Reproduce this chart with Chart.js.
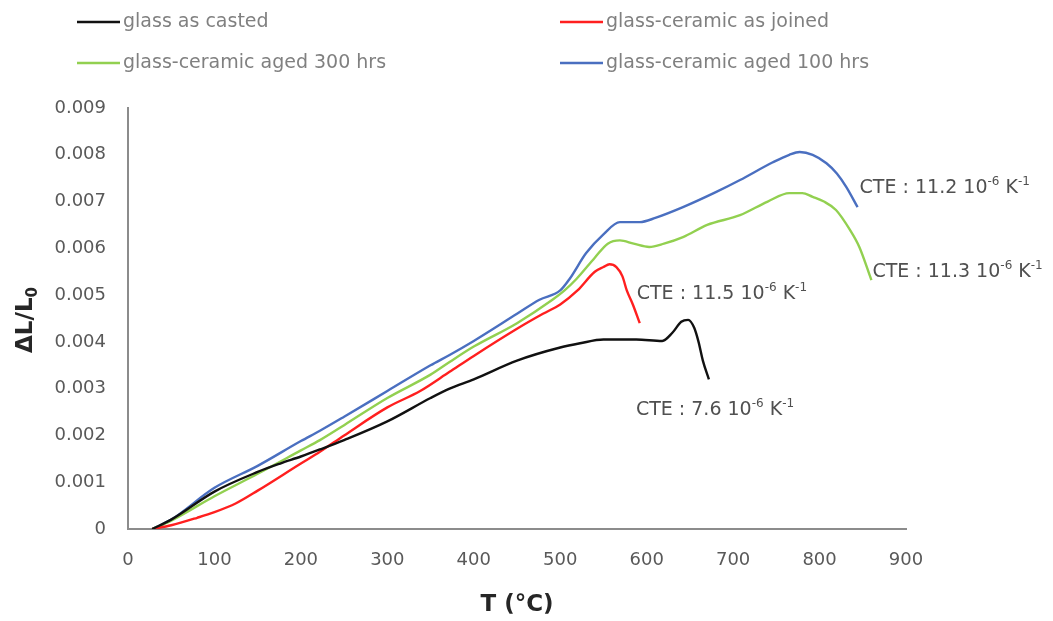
<!DOCTYPE html>
<html>
<head>
<meta charset="utf-8">
<script src="https://cdn.jsdelivr.net/npm/chart.js@4.4.1/dist/chart.umd.min.js"></script>
<style>
  html, body { margin: 0; padding: 0; background: #ffffff; }
  #wrap { width: 1053px; height: 621px; position: relative; }
</style>
</head>
<body>
<div id="wrap"><canvas id="c" width="1053" height="621"></canvas></div>
<script>
// ---------- data ----------
const seriesLabels = ['glass as casted', 'glass-ceramic as joined', 'glass-ceramic aged 300 hrs', 'glass-ceramic aged 100 hrs'];
const seriesColors = ['#111111', '#ff1f1f', '#92d050', '#4a6fc0'];

const castedT  = [28, 50, 100, 150, 176, 200, 222, 250, 300, 350, 372, 400, 450, 500, 523, 550, 588, 618, 630, 640, 648, 655, 660, 665, 672];
const castedDL = [0, 0.0002, 0.0008, 0.00122, 0.0014, 0.00155, 0.0017, 0.0019, 0.0023, 0.0028, 0.003, 0.0032, 0.0036, 0.00388, 0.00397, 0.00405, 0.00405, 0.00402, 0.0042, 0.00443, 0.00447, 0.0043, 0.004, 0.0036, 0.0032];

const joinedT  = [28, 50, 80, 100, 125, 150, 200, 222, 250, 300, 338, 372, 400, 450, 480, 500, 520, 540, 550, 557, 565, 572, 577, 584, 592];
const joinedDL = [0, 0.00008, 0.00024, 0.00036, 0.00055, 0.00082, 0.0014, 0.00165, 0.002, 0.0026, 0.00295, 0.00336, 0.0037, 0.00428, 0.0046, 0.0048, 0.0051, 0.0055, 0.0056, 0.00566, 0.0056, 0.0054, 0.0051, 0.0048, 0.0044];

const aged300T  = [28, 50, 100, 150, 200, 222, 250, 300, 350, 372, 400, 450, 491, 505, 519, 540, 555, 569, 585, 603, 620, 642, 670, 708, 740, 765, 780, 792, 805, 819, 835, 846, 860];
const aged300DL = [0, 0.00018, 0.0007, 0.00118, 0.00168, 0.0019, 0.00222, 0.0028, 0.0033, 0.00357, 0.0039, 0.0044, 0.0049, 0.0051, 0.00535, 0.0058, 0.0061, 0.00617, 0.0061, 0.00603, 0.0061, 0.00624, 0.0065, 0.00671, 0.007, 0.00718, 0.00718, 0.0071, 0.007, 0.00682, 0.0064, 0.00603, 0.00532];

const aged100T  = [28, 50, 100, 150, 200, 222, 250, 300, 350, 372, 400, 450, 476, 500, 511, 530, 550, 569, 592, 610, 642, 680, 708, 746, 765, 777, 792, 808, 820, 831, 844];
const aged100DL = [0, 0.0002, 0.00088, 0.00135, 0.00188, 0.0021, 0.0024, 0.00295, 0.0035, 0.00372, 0.00402, 0.0046, 0.0049, 0.0051, 0.00535, 0.0059, 0.0063, 0.00656, 0.00656, 0.00665, 0.00688, 0.0072, 0.00746, 0.00784, 0.008, 0.00806, 0.008, 0.00782, 0.0076, 0.00731, 0.00688];

const xTickLabels = ['0', '100', '200', '300', '400', '500', '600', '700', '800', '900'];
const yTickLabels = ['0', '0.001', '0.002', '0.003', '0.004', '0.005', '0.006', '0.007', '0.008', '0.009'];

const cteLabels = ['7.6', '11.5', '11.3', '11.2'];

// ---------- build ----------
function pairs(xs, ys) { return xs.map((x, i) => ({ x: x, y: ys[i] })); }
const seriesData = [pairs(castedT, castedDL), pairs(joinedT, joinedDL), pairs(aged300T, aged300DL), pairs(aged100T, aged100DL)];

const datasets = seriesData.map((d, i) => ({
  label: seriesLabels[i],
  data: d,
  borderColor: seriesColors[i],
  backgroundColor: seriesColors[i],
  borderWidth: 2.4,
  pointRadius: 0,
  showLine: true,
  cubicInterpolationMode: 'monotone',
  fill: false
}));

const FONT = '"DejaVu Sans", "Liberation Sans", sans-serif';

function drawSup(ctx, parts, x, y, size, color) {
  ctx.fillStyle = color;
  ctx.textBaseline = 'alphabetic';
  ctx.textAlign = 'left';
  let cx = x;
  parts.forEach(p => {
    if (p.sup) {
      ctx.font = Math.round(size * 0.62) + 'px ' + FONT;
      ctx.fillText(p.t, cx, y - size * 0.42);
    } else {
      ctx.font = size + 'px ' + FONT;
      ctx.fillText(p.t, cx, y);
    }
    cx += ctx.measureText(p.t).width;
  });
}

const overlay = {
  id: 'overlay',
  afterDraw(chart) {
    const ctx = chart.ctx;
    ctx.save();
    // legend
    const leg = [
      { x: 77, y: 22 }, { x: 560, y: 22 }, { x: 77, y: 63 }, { x: 560, y: 63 }
    ];
    seriesLabels.forEach((lab, i) => {
      const p = leg[i];
      ctx.strokeStyle = seriesColors[i];
      ctx.lineWidth = 2.6;
      ctx.beginPath();
      ctx.moveTo(p.x, p.y);
      ctx.lineTo(p.x + 43, p.y);
      ctx.stroke();
      ctx.fillStyle = '#808080';
      ctx.font = '19px ' + FONT;
      ctx.textAlign = 'left';
      ctx.textBaseline = 'middle';
      ctx.fillText(lab, p.x + 46, p.y);
    });

    // CTE annotations, anchored at each curve's end point
    const xs = chart.scales.x, ys = chart.scales.y;
    const ends = [
      { d: seriesData[0], dx: -73, dy: 29 },
      { d: seriesData[1], dx: -3, dy: -31 },
      { d: seriesData[2], dx: 1, dy: -10 },
      { d: seriesData[3], dx: 2, dy: -21 }
    ];
    ends.forEach((e, i) => {
      const last = e.d[e.d.length - 1];
      const px = xs.getPixelForValue(last.x) + e.dx;
      const py = ys.getPixelForValue(last.y) + e.dy;
      drawSup(ctx, [
        { t: 'CTE : ' + cteLabels[i] + ' 10' }, { t: '-6', sup: true },
        { t: ' K' }, { t: '-1', sup: true }
      ], px, py + 7, 19, '#505050');
    });

    // axis titles
    ctx.fillStyle = '#262626';
    ctx.font = 'bold 23px ' + FONT;
    ctx.textAlign = 'center';
    ctx.textBaseline = 'middle';
    ctx.fillText('T (°C)', (chart.chartArea.left + chart.chartArea.right) / 2, 605);

    ctx.save();
    ctx.translate(26, 320);
    ctx.rotate(-Math.PI / 2);
    ctx.textAlign = 'left';
    ctx.textBaseline = 'middle';
    const main = 'ΔL/L';
    ctx.font = 'bold 23px ' + FONT;
    const w1 = ctx.measureText(main).width;
    ctx.font = 'bold 15px ' + FONT;
    const w2 = ctx.measureText('0').width;
    const start = -(w1 + w2) / 2;
    ctx.font = 'bold 23px ' + FONT;
    ctx.fillText(main, start, 0);
    ctx.font = 'bold 15px ' + FONT;
    ctx.fillText('0', start + w1, 7);
    ctx.restore();

    ctx.restore();
  }
};

new Chart(document.getElementById('c'), {
  type: 'scatter',
  data: { datasets: datasets },
  options: {
    responsive: false,
    animation: false,
    layout: { padding: { left: 0, top: 108, right: 147, bottom: 0 } },
    plugins: { legend: { display: false }, tooltip: { enabled: false } },
    scales: {
      x: {
        type: 'linear', min: 0, max: 900,
        afterFit(s) { s.height = 92; },
        grid: { display: false, drawTicks: false },
        border: { display: true, color: '#8c8c8c', width: 2 },
        ticks: {
          stepSize: 100, padding: 21, color: '#595959',
          font: { family: FONT, size: 18 },
          maxRotation: 0,
          callback: (v, i) => xTickLabels[i]
        }
      },
      y: {
        type: 'linear', min: 0, max: 0.009,
        afterFit(s) { s.width = 128; },
        grid: { display: false, drawTicks: false },
        border: { display: true, color: '#8c8c8c', width: 2 },
        ticks: {
          stepSize: 0.001, padding: 22, color: '#595959',
          font: { family: FONT, size: 18 },
          callback: (v, i) => yTickLabels[i]
        }
      }
    }
  },
  plugins: [overlay]
});
</script>
</body>
</html>
